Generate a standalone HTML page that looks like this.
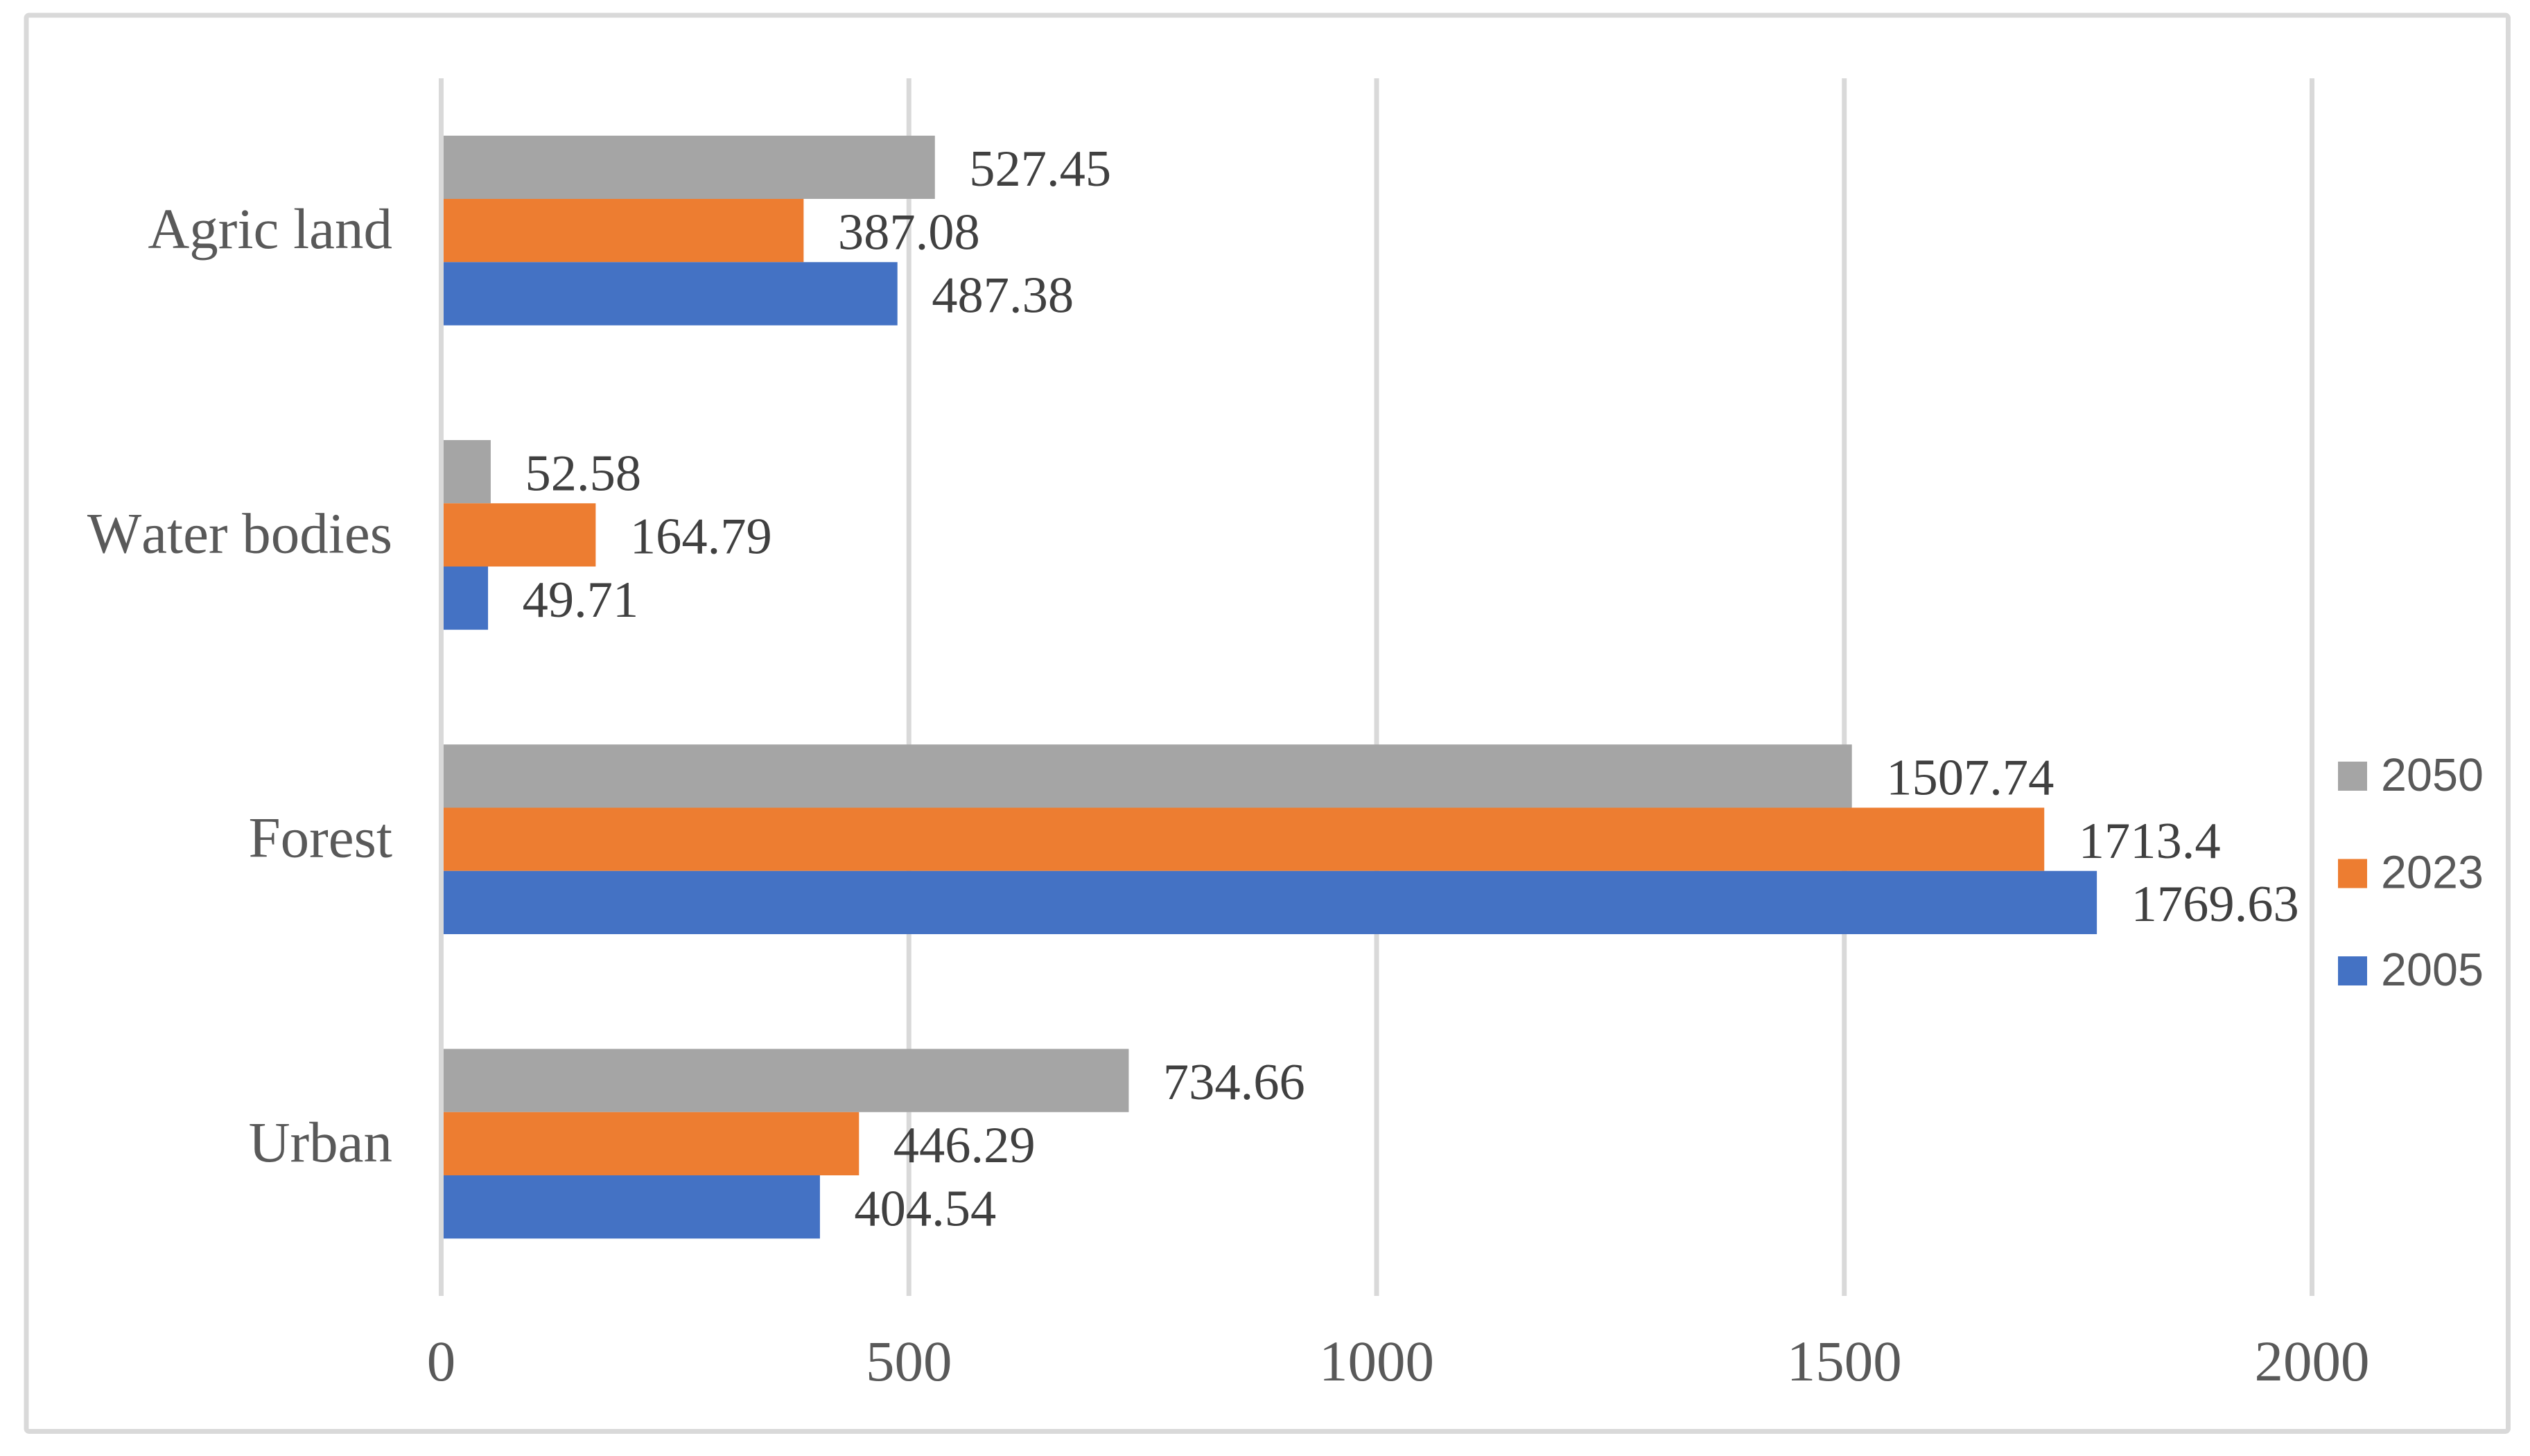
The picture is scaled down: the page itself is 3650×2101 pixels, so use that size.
<!DOCTYPE html>
<html lang="en">
<head>
<meta charset="utf-8">
<title>Land use area by category</title>
<style>
  html, body { margin: 0; padding: 0; background: #ffffff; }
  body { width: 3650px; height: 2101px; overflow: hidden; }
  svg { display: block; }
  text { font-kerning: none; }
  .serif { font-family: "Liberation Serif", "Times New Roman", serif; }
  .sans { font-family: "Liberation Sans", Arial, sans-serif; }
</style>
</head>
<body>
<svg id="chart" xmlns="http://www.w3.org/2000/svg" width="3650" height="2101" viewBox="0 0 3650 2101">
  <rect x="38" y="22" width="3580.5" height="2043.5" rx="4" fill="#ffffff" stroke="#d9d9d9" stroke-width="7"></rect>
  <g id="grid"></g>
  <g id="bars"></g>
  <g id="value-labels"></g>
  <g id="cat-labels"></g>
  <g id="tick-labels"></g>
  <g id="legend"></g>
</svg>
<script>
// Top to bottom on the chart
const categories = ["Agric land", "Water bodies", "Forest", "Urban"];
const seriesNames = ["2050", "2023", "2005"];
const values2050 = [527.45, 52.58, 1507.74, 734.66];
const values2023 = [387.08, 164.79, 1713.4, 446.29];
const values2005 = [487.38, 49.71, 1769.63, 404.54];
const axisTicks = [0, 500, 1000, 1500, 2000];

const seriesValues = [values2050, values2023, values2005];
const seriesColors = ["#a5a5a5", "#ed7d31", "#4472c4"];

const NS = "http://www.w3.org/2000/svg";
const plotLeft = 636.5, plotRight = 3335.5, plotTop = 113, plotBottom = 1870;
const axisMin = axisTicks[0], axisMax = axisTicks[axisTicks.length - 1];

function xScale(v) {
  return plotLeft + (v - axisMin) / (axisMax - axisMin) * (plotRight - plotLeft);
}
function bandCenter(i) {
  return plotTop + (i + 0.5) * (plotBottom - plotTop) / categories.length;
}
const barHeight = (plotBottom - plotTop) / categories.length * 0.2077;
function barTop(catIndex, seriesIndex) {
  return bandCenter(catIndex) - barHeight * seriesNames.length / 2 + seriesIndex * barHeight;
}
function make(tag, attrs, parent, text) {
  const el = document.createElementNS(NS, tag);
  for (const k in attrs) el.setAttribute(k, attrs[k]);
  if (text !== undefined) el.textContent = text;
  parent.appendChild(el);
  return el;
}

const gridG = document.getElementById("grid");
const barsG = document.getElementById("bars");
const valG = document.getElementById("value-labels");
const catG = document.getElementById("cat-labels");
const tickG = document.getElementById("tick-labels");
const legendG = document.getElementById("legend");

axisTicks.forEach(function (t) {
  const line = make("line", { x1: xScale(t), x2: xScale(t), y1: plotTop, y2: plotBottom, stroke: "#d9d9d9", "stroke-width": 7 }, gridG);
  
  
  const label = make("text", { x: xScale(t), y: 1992, "text-anchor": "middle", fill: "#595959", "font-size": 83, class: "serif" }, tickG, String(t));
  
  
});

categories.forEach(function (cat, c) {
  const catLabel = make("text", { x: 566, y: bandCenter(c) + 25.5, "text-anchor": "end", fill: "#595959", "font-size": 83, class: "serif" }, catG, cat);
  
  

  seriesNames.forEach(function (name, s) {
    const v = seriesValues[s][c];
    const y = barTop(c, s);
    const startX = xScale(0) + 3.5;
    const bar = make("rect", { x: startX, y: y, width: Math.max(0, xScale(v) + 0.5 - startX), height: barHeight, fill: seriesColors[s] }, barsG);
    
    

    const valLabel = make("text", { x: xScale(v) + 50, y: y + barHeight / 2 + 26.8, fill: "#404040", "font-size": 74.5, class: "serif" }, valG, String(v));
    
    
  });
});

seriesNames.forEach(function (name, s) {
  const entry = make("g", {}, legendG);
  
  
  const top = 1099 + s * 140.5;
  const swatch = make("rect", { x: 3373, y: top, width: 42, height: 42, fill: seriesColors[s] }, entry);
  
  
  const text = make("text", { x: 3435, y: top + 42, fill: "#595959", "font-size": 66.5, class: "sans" }, entry, name);
  
  
});
</script>
</body>
</html>
